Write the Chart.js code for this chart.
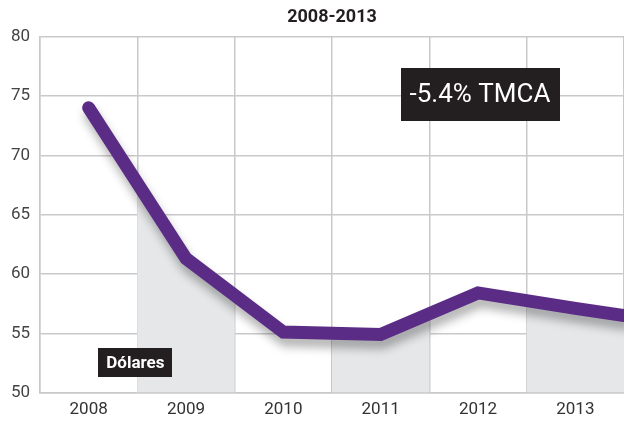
<!DOCTYPE html>
<html>
<head>
<meta charset="utf-8">
<script src="https://cdn.jsdelivr.net/npm/chart.js@4/dist/chart.umd.min.js"></script>
<style>
  html, body { margin: 0; padding: 0; background: #fff; }
  #wrap { width: 624px; height: 426px; position: relative; }
</style>
</head>
<body>
<div id="wrap"><canvas id="chart"></canvas></div>
<script>
const years = [2008, 2009, 2010, 2011, 2012, 2013];
const values = [74.0, 61.3, 55.1, 54.9, 58.4, 57.1];
// the line runs on to the right border of the plot
const edgeYear = 2013.5;
const edgeValue = 56.5;
const shadedYears = [2009, 2011, 2013];
const yTicks = [50, 55, 60, 65, 70, 75, 80];

const FONT = "Roboto, 'Liberation Sans', sans-serif";
const purple = '#5b2c86';
const gridColor = '#c9c9cb';

const points = years.map((y, i) => ({ x: y, y: values[i] }));
points.push({ x: edgeYear, y: edgeValue });

// gray bands under the line in alternate columns
const bandFill = {
  id: 'bandFill',
  beforeDatasetsDraw(chart) {
    const { ctx, chartArea, scales } = chart;
    const pts = chart.getDatasetMeta(0).data;
    ctx.save();
    ctx.beginPath();
    shadedYears.forEach(y => {
      const l = scales.x.getPixelForValue(y - 0.5);
      const r = scales.x.getPixelForValue(y + 0.5);
      ctx.rect(l, chartArea.top, r - l, chartArea.bottom - chartArea.top);
    });
    ctx.clip();
    ctx.beginPath();
    ctx.moveTo(pts[0].x, chartArea.bottom);
    pts.forEach(p => ctx.lineTo(p.x, p.y));
    ctx.lineTo(pts[pts.length - 1].x, chartArea.bottom);
    ctx.closePath();
    ctx.fillStyle = '#e6e7e9';
    ctx.fill();
    ctx.restore();
  },
  beforeDatasetDraw(chart) {
    const ctx = chart.ctx;
    ctx.save();
    ctx.shadowColor = 'rgba(0,0,0,0.3)';
    ctx.shadowBlur = 10;
    ctx.shadowOffsetX = 2;
    ctx.shadowOffsetY = 8;
  },
  afterDatasetDraw(chart) {
    chart.ctx.restore();
  }
};

function labelBox(ctx, text, cx, cy, font, padX, h) {
  ctx.font = font;
  const w = ctx.measureText(text).width + padX * 2;
  ctx.fillStyle = '#231f20';
  ctx.fillRect(Math.round(cx - w / 2), Math.round(cy - h / 2), Math.round(w), h);
  ctx.fillStyle = '#fff';
  ctx.textAlign = 'center';
  ctx.textBaseline = 'middle';
  ctx.fillText(text, cx, cy + 1);
}

const labels = {
  id: 'labels',
  afterDraw(chart) {
    const { ctx, scales } = chart;
    ctx.save();
    labelBox(ctx, '-5.4% TMCA', scales.x.getPixelForValue(2012.02), scales.y.getPixelForValue(75.1),
      "26px " + FONT, 9, 53);
    labelBox(ctx, 'Dólares', scales.x.getPixelForValue(2008.48), scales.y.getPixelForValue(52.5),
      "bold 17px " + FONT, 8, 29);
    ctx.restore();
  }
};

new Chart(document.getElementById('chart'), {
  type: 'line',
  data: {
    datasets: [{
      data: points,
      borderColor: purple,
      borderWidth: 13,
      borderCapStyle: 'round',
      borderJoinStyle: 'miter',
      pointRadius: 0,
      tension: 0,
      fill: false
    }]
  },
  options: {
    responsive: true,
    maintainAspectRatio: false,
    animation: false,
    layout: { padding: { left: 0, right: 0, top: 0, bottom: 0 } },
    plugins: {
      legend: { display: false },
      tooltip: { enabled: false },
      title: {
        display: true,
        text: '2008-2013',
        fullSize: false,
        color: '#231f20',
        font: { family: FONT, size: 18, weight: 'bold' },
        padding: { top: 7, bottom: 8 }
      }
    },
    scales: {
      x: {
        type: 'linear',
        min: 2007.5,
        max: 2013.5,
        afterBuildTicks(scale) {
          const t = [];
          for (let v = 2007.5; v <= 2013.5; v += 0.5) t.push({ value: v });
          scale.ticks = t;
        },
        afterFit(scale) { scale.paddingRight = 0; scale.paddingLeft = 0; },
        ticks: {
          autoSkip: false,
          maxRotation: 0,
          padding: 6.5,
          color: '#333',
          font: { family: FONT, size: 17 },
          callback: v => (Number.isInteger(v) && years.includes(v)) ? String(v) : ''
        },
        grid: {
          drawTicks: false,
          color: c => Number.isInteger(c.tick.value) ? 'rgba(0,0,0,0)' : gridColor,
          lineWidth: 1.5
        },
        border: { display: true, color: gridColor, width: 1.5 }
      },
      y: {
        min: 50,
        max: 80,
        afterBuildTicks(scale) {
          scale.ticks = yTicks.map(v => ({ value: v }));
        },
        afterFit(scale) { scale.width = 40; },
        ticks: {
          padding: 10,
          color: '#444',
          font: { family: FONT, size: 17 }
        },
        grid: { drawTicks: false, color: gridColor, lineWidth: 1.5 },
        border: { display: true, color: gridColor, width: 1.5 }
      }
    }
  },
  plugins: [bandFill, labels]
});
</script>
</body>
</html>
